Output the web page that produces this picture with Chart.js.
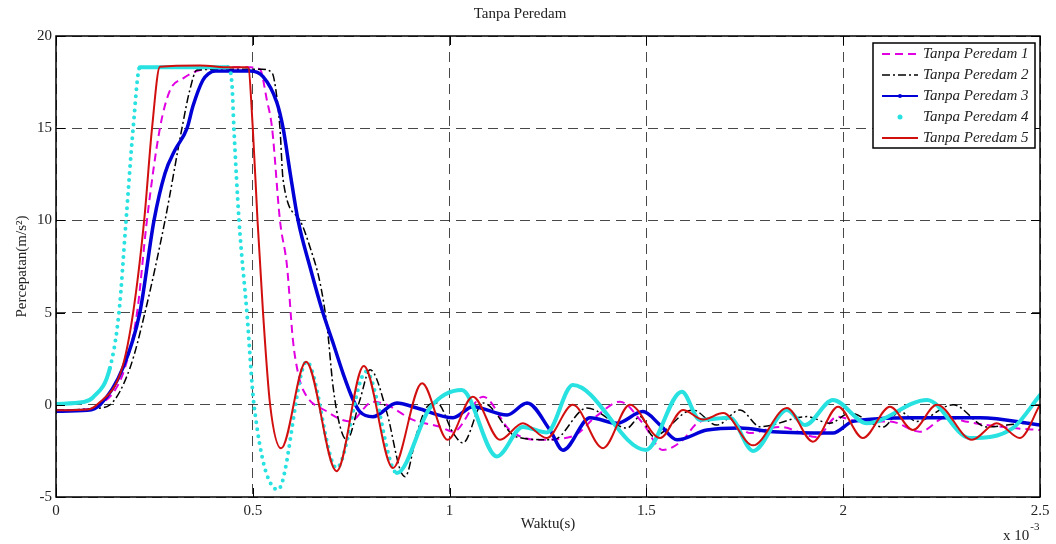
<!DOCTYPE html>
<html>
<head>
<meta charset="utf-8">
<title>Tanpa Peredam</title>
<script src="https://cdn.jsdelivr.net/npm/chart.js@4.4.0/dist/chart.umd.min.js"></script>
<style>
  html, body { margin: 0; padding: 0; background: #fff; }
  #wrap { width: 1056px; height: 544px; }
</style>
</head>
<body>
<div id="wrap"><canvas id="chart"></canvas></div>
<script>
// waktu in units of 1e-3 s, percepatan in m/s^2
const seriesLabels = ['Tanpa Peredam 1', 'Tanpa Peredam 2', 'Tanpa Peredam 3', 'Tanpa Peredam 4', 'Tanpa Peredam 5'];

const time1 = [0, 0.08, 0.11, 0.15, 0.175, 0.206, 0.231, 0.264, 0.29, 0.323, 0.358, 0.417, 0.493, 0.518, 0.536, 0.549, 0.569, 0.587, 0.602, 0.615, 0.628, 0.689, 0.747, 0.805, 0.84, 0.907, 0.976, 1.009, 1.085, 1.153, 1.222, 1.313, 1.374, 1.433, 1.491, 1.542, 1.593, 1.629, 1.705, 1.763, 1.839, 1.933, 1.984, 2.043, 2.119, 2.195, 2.264, 2.31, 2.431, 2.5];
const acc1 = [-0.3, -0.25, 0, 0.8, 2, 5, 10, 15, 17.07, 17.7, 18.1, 18.3, 18.3, 18.2, 16.5, 15, 10, 7.5, 3.5, 1.72, 0.8, -0.37, -0.9, 0.17, 0, -0.82, -1.19, -1.46, 0.44, -1.37, -1.9, -1.7, -0.6, 0.17, -1.0, -2.45, -1.9, -1.0, -0.7, -1.53, -1.2, -1.75, -0.65, -0.9, -0.9, -1.46, -0.65, -0.9, -1.26, -1.37];

const time2 = [0, 0.1, 0.137, 0.188, 0.226, 0.277, 0.32, 0.34, 0.358, 0.442, 0.523, 0.549, 0.561, 0.569, 0.577, 0.62, 0.645, 0.671, 0.689, 0.704, 0.722, 0.739, 0.772, 0.798, 0.841, 0.874, 0.887, 0.917, 0.943, 0.968, 1.009, 1.034, 1.085, 1.171, 1.263, 1.349, 1.451, 1.484, 1.517, 1.618, 1.679, 1.738, 1.789, 1.908, 1.966, 2.017, 2.101, 2.144, 2.187, 2.279, 2.365, 2.467, 2.5];
const acc2 = [-0.3, -0.2, 0, 2, 5, 10, 15, 17.07, 18.15, 18.2, 18.2, 18, 16.7, 15, 12.2, 10, 8.57, 6.6, 4.2, 0.97, -1.2, -1.9, 0.26, 1.9, -0.45, -3.5, -3.9, -1.53, -0.1, 0.1, -1.53, -2.07, 0.1, -1.75, -1.9, -0.17, -1.26, -0.64, -1.7, -0.28, -1.1, -0.28, -1.19, -0.64, -1.0, -0.45, -1.2, -0.37, -0.9, 0, -1.2, -1.0, -1.1];

const time3 = [0, 0.08, 0.112, 0.17, 0.213, 0.249, 0.277, 0.302, 0.333, 0.348, 0.373, 0.387, 0.405, 0.493, 0.526, 0.561, 0.577, 0.595, 0.615, 0.645, 0.678, 0.704, 0.729, 0.755, 0.772, 0.805, 0.866, 0.917, 1.009, 1.059, 1.146, 1.197, 1.255, 1.288, 1.357, 1.425, 1.491, 1.535, 1.578, 1.654, 1.738, 1.822, 1.974, 2.025, 2.177, 2.348, 2.5];
const acc3 = [-0.35, -0.3, 0, 2, 5, 10, 12.56, 13.8, 15, 16.2, 17.6, 17.95, 18.1, 18.1, 17.8, 16.4, 15, 12.56, 10, 7.5, 5, 3.35, 1.72, 0.26, -0.37, -0.65, 0.1, -0.17, -0.7, -0.1, -0.55, 0.1, -1.37, -2.46, -0.7, -1.0, -0.37, -1.1, -1.9, -1.37, -1.26, -1.46, -1.53, -0.9, -0.7, -0.7, -1.1];

const time4 = [0, 0.07, 0.094, 0.137, 0.16, 0.178, 0.196, 0.213, 0.437, 0.447, 0.452, 0.465, 0.485, 0.503, 0.564, 0.637, 0.713, 0.788, 0.866, 0.95, 1.031, 1.12, 1.186, 1.247, 1.313, 1.499, 1.59, 1.636, 1.712, 1.771, 1.857, 1.903, 1.974, 2.06, 2.213, 2.322, 2.431, 2.5];
const acc4 = [0.05, 0.15, 0.4, 2, 5, 10, 15, 18.3, 18.3, 17.4, 15, 10, 5, 0, -4.6, 2.34, -3.43, 1.8, -3.7, -0.17, 0.8, -2.8, -1.2, -1.5, 1.07, -2.45, 0.71, -0.82, -0.7, -2.5, -0.28, -1.1, 0.26, -1.0, 0.26, -1.8, -1.26, 0.53];

const time5 = [0, 0.08, 0.104, 0.168, 0.196, 0.224, 0.244, 0.264, 0.366, 0.442, 0.488, 0.5, 0.512, 0.526, 0.544, 0.572, 0.635, 0.713, 0.782, 0.856, 0.93, 0.995, 1.059, 1.128, 1.186, 1.247, 1.313, 1.39, 1.458, 1.535, 1.593, 1.644, 1.695, 1.771, 1.857, 1.923, 1.987, 2.05, 2.119, 2.177, 2.238, 2.327, 2.39, 2.449, 2.5];
const acc5 = [-0.3, -0.25, 0, 2, 5, 10, 15, 18.33, 18.4, 18.3, 18.3, 15, 10, 5, 0, -2.36, 2.34, -3.6, 2.1, -3.43, 1.17, -1.9, 0.44, -1.9, -1.0, -1.8, 0, -2.35, 0, -1.8, -0.28, -0.8, -0.45, -2.2, -0.17, -2.0, -0.1, -1.8, -0.1, -1.37, 0, -1.9, -1.0, -1.8, 0];

const xTicks = [0, 0.5, 1, 1.5, 2, 2.5];
const yTicks = [-5, 0, 5, 10, 15, 20];

const serif = '"Liberation Serif", "Times New Roman", serif';

function toPoints(ts, vs) {
    return ts.map((t, i) => ({ x: t, y: vs[i] }));
}

// dots where the cyan trace is steep, like sparse markers in the original
function steep(ctx) {
    const dx = Math.abs(ctx.p1.x - ctx.p0.x);
    const dy = Math.abs(ctx.p1.y - ctx.p0.y);
    return dy > 2.5 * dx;
}

const styles = [
    { color: 'rgb(225, 0, 225)', width: 2, dash: [8, 5] },
    { color: 'rgb(0, 0, 0)', width: 1.5, dash: [8, 3, 2, 3] },
    { color: 'rgb(0, 0, 215)', width: 3.5, dash: [] },
    { color: 'rgb(40, 225, 225)', width: 4, dash: [] },
    { color: 'rgb(210, 15, 15)', width: 2, dash: [] }
];

const seriesData = [
    toPoints(time1, acc1),
    toPoints(time2, acc2),
    toPoints(time3, acc3),
    toPoints(time4, acc4),
    toPoints(time5, acc5)
];

const datasets = seriesData.map((pts, i) => {
    const ds = {
        label: seriesLabels[i],
        data: pts,
        borderColor: styles[i].color,
        borderWidth: styles[i].width,
        borderDash: styles[i].dash,
        pointRadius: 0,
        fill: false,
        cubicInterpolationMode: 'monotone',
        order: 5 - i
    };
    if (i === 3) {
        ds.borderCapStyle = 'round';
        ds.segment = { borderDash: ctx => steep(ctx) ? [0, 7] : undefined };
    }
    return ds;
});

// axes box, inward ticks, exponent note and the legend
const matlabFrame = {
    id: 'matlabFrame',
    afterDraw(chart) {
        const { ctx, chartArea: a, scales } = chart;
        ctx.save();
        ctx.strokeStyle = '#000';
        ctx.lineWidth = 1.5;
        ctx.setLineDash([]);
        ctx.strokeRect(a.left, a.top, a.right - a.left, a.bottom - a.top);

        ctx.lineWidth = 1;
        const tl = 9;
        ctx.beginPath();
        xTicks.forEach(v => {
            const x = Math.round(scales.x.getPixelForValue(v)) + 0.5;
            ctx.moveTo(x, a.bottom); ctx.lineTo(x, a.bottom - tl);
            ctx.moveTo(x, a.top); ctx.lineTo(x, a.top + tl);
        });
        yTicks.forEach(v => {
            const y = Math.round(scales.y.getPixelForValue(v)) + 0.5;
            ctx.moveTo(a.left, y); ctx.lineTo(a.left + tl, y);
            ctx.moveTo(a.right, y); ctx.lineTo(a.right - tl, y);
        });
        ctx.stroke();

        // x 10^-3
        ctx.fillStyle = '#222';
        ctx.textBaseline = 'alphabetic';
        ctx.textAlign = 'left';
        ctx.font = '15px ' + serif;
        ctx.fillText('x 10', 1003, 540);
        const w = ctx.measureText('x 10').width;
        ctx.font = '11px ' + serif;
        ctx.fillText('-3', 1003 + w + 1, 530);

        // legend
        const lx = a.right - 167, ly = a.top + 7, lw = 162, lh = 105;
        ctx.fillStyle = '#fff';
        ctx.fillRect(lx, ly, lw, lh);
        ctx.strokeStyle = '#000';
        ctx.lineWidth = 1.5;
        ctx.strokeRect(lx, ly, lw, lh);
        ctx.font = 'italic 15px ' + serif;
        ctx.textBaseline = 'middle';
        chart.data.datasets.forEach((ds, i) => {
            const y = ly + 11 + i * 21;
            const x0 = lx + 9, x1 = lx + 45;
            ctx.strokeStyle = ds.borderColor;
            ctx.fillStyle = ds.borderColor;
            if (i === 3) {
                ctx.beginPath();
                ctx.arc((x0 + x1) / 2, y, 2.5, 0, Math.PI * 2);
                ctx.fill();
            } else {
                ctx.lineWidth = i === 2 ? 2 : ds.borderWidth;
                ctx.setLineDash(ds.borderDash);
                ctx.beginPath();
                ctx.moveTo(x0, y); ctx.lineTo(x1, y);
                ctx.stroke();
                ctx.setLineDash([]);
                if (i === 2) {
                    ctx.beginPath();
                    ctx.arc((x0 + x1) / 2, y, 2, 0, Math.PI * 2);
                    ctx.fill();
                }
            }
            ctx.fillStyle = '#222';
            ctx.fillText(ds.label, lx + 50, y);
        });
        ctx.restore();
    }
};

const chart = new Chart(document.getElementById('chart'), {
    type: 'line',
    data: { datasets: datasets },
    plugins: [matlabFrame],
    options: {
        responsive: true,
        maintainAspectRatio: false,
        animation: false,
        layout: { padding: { left: 0, right: 16, top: 0, bottom: 0 } },
        plugins: {
            legend: { display: false },
            tooltip: { enabled: false },
            title: {
                display: true,
                text: 'Tanpa Peredam',
                color: '#222',
                font: { family: serif, size: 15, weight: 'normal' },
                padding: { top: 5, bottom: 13 }
            }
        },
        scales: {
            x: {
                type: 'linear',
                min: 0,
                max: 2.5,
                afterBuildTicks: s => { s.ticks = xTicks.map(v => ({ value: v })); },
                afterFit: s => { s.height = 47; },
                ticks: {
                    color: '#222',
                    padding: 5,
                    maxRotation: 0,
                    font: { family: serif, size: 15 },
                    callback: v => String(v)
                },
                grid: { color: 'rgba(40,40,40,0.85)', lineWidth: 1, drawTicks: false },
                border: { display: false, dash: [10, 6] },
                title: {
                    display: true,
                    text: 'Waktu(s)',
                    color: '#222',
                    font: { family: serif, size: 15 },
                    padding: { top: 0, bottom: 11 }
                }
            },
            y: {
                min: -5,
                max: 20,
                afterBuildTicks: s => { s.ticks = yTicks.map(v => ({ value: v })); },
                afterFit: s => { s.width = 56; },
                ticks: {
                    color: '#222',
                    padding: 4,
                    font: { family: serif, size: 15 },
                    callback: v => String(v)
                },
                grid: { color: 'rgba(40,40,40,0.85)', lineWidth: 1, drawTicks: false },
                border: { display: false, dash: [10, 6] },
                title: {
                    display: true,
                    text: 'Percepatan(m/s²)',
                    color: '#222',
                    font: { family: serif, size: 15 },
                    padding: { top: 13, bottom: 0 }
                }
            }
        }
    }
});
</script>
</body>
</html>
